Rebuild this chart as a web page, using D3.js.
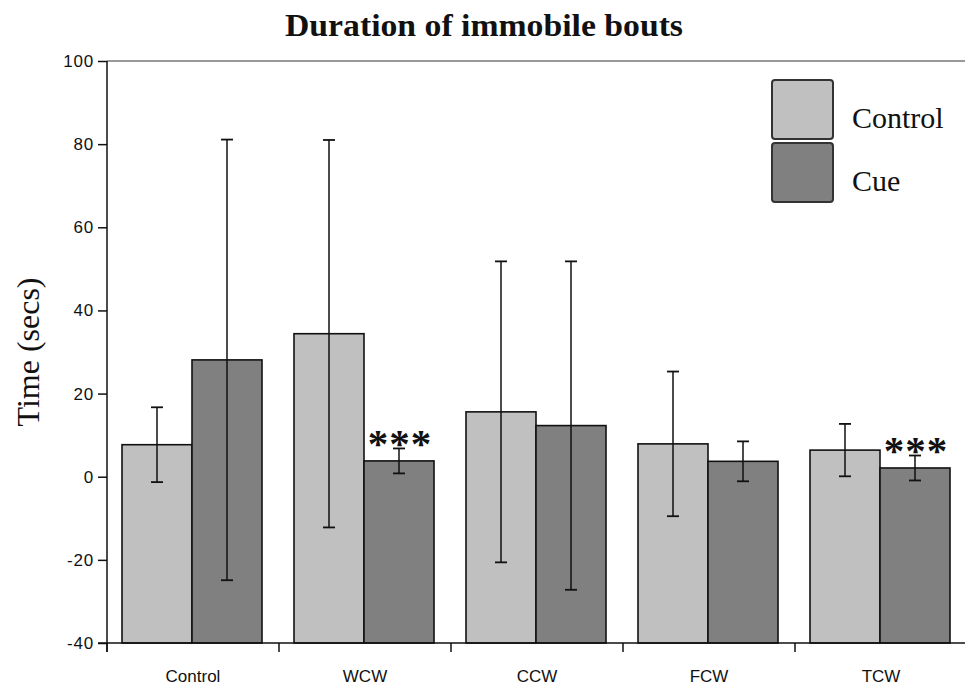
<!DOCTYPE html>
<html><head><meta charset="utf-8">
<script src="https://cdn.jsdelivr.net/npm/d3@7"></script>
<style>body{margin:0;background:#fff}svg{display:block}</style>
</head><body>
<svg id="c" width="965" height="688"></svg>
<script>
const categories = ["Control","WCW","CCW","FCW","TCW"];
const seriesNames = ["Control","Cue"];
const controlMeans = [7.7, 34.4, 15.6, 7.9, 6.4];
const controlErr   = [9.0, 46.6, 36.2, 17.4, 6.3];
const cueMeans     = [28.1, 3.8, 12.3, 3.7, 2.1];
const cueErr       = [53.0, 3.0, 39.5, 4.8, 3.0];
const cueSignif    = ["", "***", "", "", "***"];
const yTicks = [-40,-20,0,20,40,60,80,100];
const colors = ["#c0c0c0","#808080"];

(function(){
const svg = d3.select("#c");
const pl = 107, pr = 967, pt = 61, pb = 643;
const y = d3.scaleLinear().domain([-40,100]).range([pb, pt]);
const x0 = d3.scaleBand().domain(categories).range([pl, pr]).paddingInner(0).paddingOuter(0);
const x1 = d3.scaleBand().domain(seriesNames).range([15, x0.bandwidth()-17]).padding(0.0);

svg.append("line").attr("x1", pl).attr("x2", 965).attr("y1", y(100)).attr("y2", y(100))
  .attr("stroke", "#999").attr("stroke-width", 2);

const data = categories.map((c,i)=>({cat:c, vals:[
  {s:"Control", m:controlMeans[i], e:controlErr[i], sig:""},
  {s:"Cue", m:cueMeans[i], e:cueErr[i], sig:cueSignif[i]}]}));

const g = svg.selectAll("g.grp").data(data).enter().append("g")
  .attr("transform", d=>`translate(${x0(d.cat)},0)`);
g.selectAll("rect").data(d=>d.vals).enter().append("rect")
  .attr("x", d=>x1(d.s)).attr("width", x1.bandwidth())
  .attr("y", d=>y(d.m)).attr("height", d=>y(-40)-y(d.m))
  .attr("fill", (d,i)=>colors[i]).attr("stroke", "#111").attr("stroke-width", 1.6);
const eb = g.selectAll("g.eb").data(d=>d.vals).enter().append("g");
eb.append("line").attr("x1", d=>x1(d.s)+x1.bandwidth()/2).attr("x2", d=>x1(d.s)+x1.bandwidth()/2)
  .attr("y1", d=>y(d.m+d.e)).attr("y2", d=>y(d.m-d.e)).attr("stroke","#111").attr("stroke-width",1.5);
eb.selectAll("line.cap").data(d=>[{d, v:d.m+d.e},{d, v:d.m-d.e}]).enter().append("line")
  .attr("x1", c=>x1(c.d.s)+x1.bandwidth()/2-6).attr("x2", c=>x1(c.d.s)+x1.bandwidth()/2+6)
  .attr("y1", c=>y(c.v)).attr("y2", c=>y(c.v)).attr("stroke","#111").attr("stroke-width",1.8);
eb.filter(d=>d.sig).append("text")
  .attr("x", d=>x1(d.s)+x1.bandwidth()/2+1).attr("y", d=>y(d.m)-4)
  .attr("text-anchor","middle").attr("font-family","Liberation Serif, serif")
  .attr("font-size", 41).attr("font-weight","bold").attr("letter-spacing", 1).attr("fill","#111")
  .text(d=>d.sig);

const yAxis = d3.axisLeft(y).tickValues(yTicks).tickSize(9).tickSizeOuter(0).tickFormat(d=>String(d));
const ya = svg.append("g").attr("transform", `translate(${pl},0)`).call(yAxis);
ya.select(".domain").remove();
ya.append("line").attr("x1",0).attr("x2",0).attr("y1",y(100)).attr("y2",pb+9).attr("stroke","#111").attr("stroke-width",1.5);
ya.selectAll(".tick line").attr("stroke","#111").attr("stroke-width",1.5);
ya.selectAll(".tick text").attr("x",-13).attr("font-family","Liberation Sans, Arial, sans-serif")
  .attr("font-size",17).attr("fill","#111").attr("letter-spacing",0.8);

const xa = svg.append("g").attr("transform", `translate(0,${pb})`);
xa.append("line").attr("x1", pl-9).attr("x2", 965).attr("y1",0).attr("y2",0).attr("stroke","#111").attr("stroke-width",1.6);
const bounds = categories.map(c=>x0(c)).concat([x0(categories[categories.length-1])+x0.bandwidth()]);
xa.selectAll("line.t").data(bounds).enter().append("line")
  .attr("x1",d=>d).attr("x2",d=>d).attr("y1",0).attr("y2",9).attr("stroke","#111").attr("stroke-width",1.5);
xa.selectAll("text").data(categories).enter().append("text")
  .attr("x", d=>x0(d)+x0.bandwidth()/2).attr("y", 39).attr("text-anchor","middle")
  .attr("font-family","Liberation Sans, Arial, sans-serif").attr("font-size",17).attr("fill","#111")
  .text(d=>d);

svg.append("text").attr("x", 484).attr("y", 36).attr("text-anchor","middle")
  .attr("font-family","Liberation Serif, Times New Roman, serif").attr("font-weight","bold")
  .attr("font-size", 31).attr("fill","#111")
  .attr("textLength", 398).attr("lengthAdjust","spacingAndGlyphs")
  .text("Duration of immobile bouts");

svg.append("text").attr("transform", `translate(39,352) rotate(-90)`).attr("text-anchor","middle")
  .attr("font-family","Liberation Serif, Times New Roman, serif").attr("font-size", 32).attr("fill","#111")
  .text("Time (secs)");

const leg = svg.append("g").attr("transform","translate(772,80)");
const li = leg.selectAll("g").data(seriesNames).enter().append("g").attr("transform",(d,i)=>`translate(0,${i*63})`);
li.append("rect").attr("width",61).attr("height",59).attr("rx",3).attr("fill",(d,i)=>colors[i]).attr("stroke","#333").attr("stroke-width",2);
li.append("text").attr("x",80).attr("y",48).attr("font-family","Liberation Serif, Times New Roman, serif")
  .attr("font-size",30).attr("fill","#111").text(d=>d);
})();
</script>
</body></html>
